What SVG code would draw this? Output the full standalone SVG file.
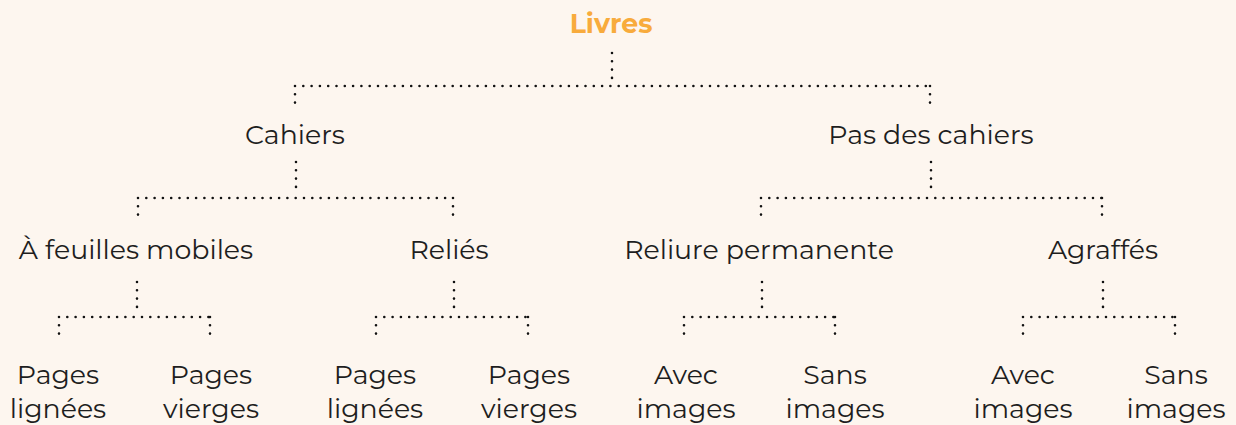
<svg xmlns="http://www.w3.org/2000/svg" width="1236" height="425" viewBox="0 0 1236 425">
<style>
.t{font-family:"Montserrat","Noto Sans","Open Sans",sans-serif;font-size:26.8px;fill:#1e1e1e;text-anchor:middle}
.root{font-family:"Montserrat","Noto Sans","Open Sans",sans-serif;font-size:26.8px;font-weight:bold;fill:#f8ab3c;text-anchor:middle}
.c{fill:none;stroke:#111;stroke-width:2.6;stroke-linecap:round;stroke-dasharray:0 8.3}
</style>
<rect width="1236" height="425" fill="#fdf6ef"/>
<g id="connectors">
<path class="c" d="M612 53V78M295 86H930M295 86V106M930 86V107"/>
<path class="c" d="M296 162V187M138 198H453M138 198V215M453 198V219"/>
<path class="c" d="M931 162V187M761 198H1102M761 198V215M1102 198V219"/>
<path class="c" d="M137 282V307M59 317H210M59 317V337M210 317V339"/>
<path class="c" d="M454 282V307M376 317H528M376 317V337M528 317V339"/>
<path class="c" d="M762 282V307M684 317H835M684 317V337M835 317V339"/>
<path class="c" d="M1103 282V307M1023 317H1175M1023 317V337M1175 317V339"/>
</g>
<g id="n-livres"><text class="root" x="611" y="33">Livres</text></g>
<g id="n-cahiers"><text class="t" x="295" y="144">Cahiers</text></g>
<g id="n-pas-cahiers"><text class="t" x="931" y="144">Pas des cahiers</text></g>
<g id="n-feuilles"><text class="t" x="136" y="259">À feuilles mobiles</text></g>
<g id="n-relies"><text class="t" x="449" y="259">Reliés</text></g>
<g id="n-reliure"><text class="t" x="759" y="259">Reliure permanente</text></g>
<g id="n-agraffes"><text class="t" x="1103" y="259">Agraffés</text></g>
<g id="n-l1"><text class="t" x="58" y="384">Pages</text><text class="t" x="58" y="418">lignées</text></g>
<g id="n-l2"><text class="t" x="211" y="384">Pages</text><text class="t" x="211" y="418">vierges</text></g>
<g id="n-l3"><text class="t" x="375" y="384">Pages</text><text class="t" x="375" y="418">lignées</text></g>
<g id="n-l4"><text class="t" x="529" y="384">Pages</text><text class="t" x="529" y="418">vierges</text></g>
<g id="n-l5"><text class="t" x="686" y="384">Avec</text><text class="t" x="686" y="418">images</text></g>
<g id="n-l6"><text class="t" x="835" y="384">Sans</text><text class="t" x="835" y="418">images</text></g>
<g id="n-l7"><text class="t" x="1023" y="384">Avec</text><text class="t" x="1023" y="418">images</text></g>
<g id="n-l8"><text class="t" x="1176" y="384">Sans</text><text class="t" x="1176" y="418">images</text></g>
</svg>
